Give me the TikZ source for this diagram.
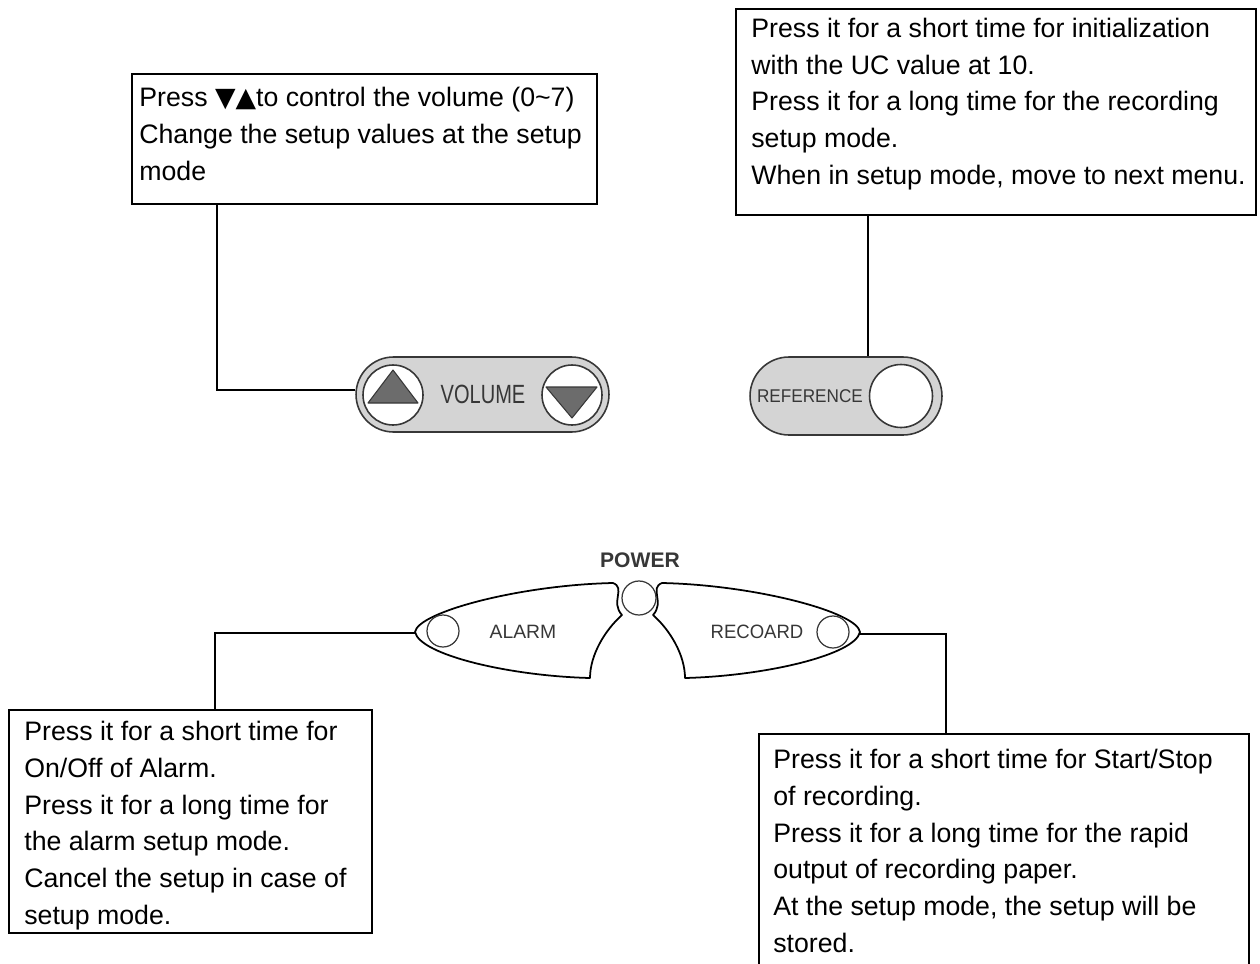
\documentclass[tikz,border=0pt]{standalone}
\usepackage{fontspec}
\setmainfont{Liberation Sans}
\newfontfamily\symfont{DejaVu Sans}
\usepackage{graphicx}
\usetikzlibrary{positioning, calc}
\definecolor{padgray}{RGB}{212,212,212}
\definecolor{keygray}{RGB}{108,108,108}
\definecolor{inkgray}{RGB}{55,55,55}

\begin{document}
\begin{tikzpicture}[x=0.02cm, y=-0.02cm,
  infobox/.style={draw, line width=1.1pt, anchor=north west, inner sep=0pt},
  note/.style={anchor=north west, inner sep=0pt, align=left,
               font=\fontsize{15.2}{21}\selectfont},
  pill/.style={draw=inkgray, line width=0.9pt, fill=padgray, inner sep=0pt},
  key/.style={circle, draw=inkgray, line width=0.9pt, fill=white, inner sep=0pt,
              minimum size=1.2cm},
  lamp/.style={circle, draw=inkgray, line width=0.7pt, inner sep=0pt, minimum size=0.64cm},
  padline/.style={draw=black, line width=1pt, line join=round},
  arrowkey/.style={draw=inkgray, line width=0.6pt, fill=keygray, line join=round},
  wire/.style={line width=1.1pt}]

  \path[use as bounding box] (0,0) rectangle (1260,963);
  \clip (0,0) rectangle (1260,963);

  % info boxes
  \node[infobox, minimum width=9.3cm,  minimum height=2.6cm]  (volbox)   at (131,73)  {};
  \node[infobox, minimum width=10.4cm, minimum height=4.12cm] (refbox)   at (735,8)   {};
  \node[infobox, minimum width=7.26cm, minimum height=4.46cm] (alarmbox) at (8,709)   {};
  \node[infobox, minimum width=9.8cm,  minimum height=5.4cm]  (recbox)   at (758,733) {};

  \node[note] (voltext) at ($(volbox.north west)+(8,14)$)
    {Press {\symfont ▼▲}to control the volume (0\textasciitilde7)\\
     Change the setup values at the setup\\ mode};
  \node[note] (reftext) at ($(refbox.north west)+(16,9.5)$)
    {Press it for a short time for initialization\\
     with the UC value at 10.\\
     Press it for a long time for the recording\\
     setup mode.\\
     When in setup mode, move to next menu.};
  \node[note] (alarmtext) at ($(alarmbox.north west)+(16,11.5)$)
    {Press it for a short time for\\ On/Off of Alarm.\\
     Press it for a long time for\\ the alarm setup mode.\\
     Cancel the setup in case of\\ setup mode.};
  \node[note] (rectext) at ($(recbox.north west)+(15,15.5)$)
    {Press it for a short time for Start/Stop\\ of recording.\\
     Press it for a long time for the rapid\\ output of recording paper.\\
     At the setup mode, the setup will be\\ stored.};

  % volume pad
  \node[pill, rounded corners=0.75cm, minimum width=5.06cm, minimum height=1.5cm]
    (volpill) at (482.5,394.5) {};
  \node[key] (upkey)   at (393,395) {};
  \node[key] (downkey) at (572,395) {};
  \draw[arrowkey] (368,403) -- (393,370) -- (418,403) -- cycle;
  \draw[arrowkey] (546,387) -- (597,387) -- (572,418) -- cycle;
  \node[text=inkgray, font=\fontsize{15}{15}\selectfont] (vollabel) at (483,394)
    {\scalebox{0.76}[1]{VOLUME}};

  % reference pad
  \node[pill, rounded corners=0.78cm, minimum width=3.84cm, minimum height=1.56cm]
    (refpill) at (846,396) {};
  \node[key, minimum size=1.26cm] (refkey) at (901,396) {};
  \node[text=inkgray, font=\fontsize{10.5}{10.5}\selectfont] (reflabel) at (810,396)
    {\scalebox{0.93}[1]{REFERENCE}};

  % alarm / power / record panel
  \draw[padline] (415,632) .. controls (418,612) and (520,585) .. (613,583)
    .. controls (626,588) and (610,602) .. (622,615)
    .. controls (605,630) and (590,655) .. (590,678)
    .. controls (510,676) and (420,655) .. (415,632) -- cycle;
  \draw[padline] (860,632) .. controls (857,612) and (755,585) .. (662,583)
    .. controls (649,588) and (665,602) .. (653,615)
    .. controls (670,630) and (685,655) .. (685,678)
    .. controls (765,676) and (855,655) .. (860,632) -- cycle;
  \node[lamp] (alarmkey) at (443,631) {};
  \node[lamp] (reckey)   at (833,632) {};
  \node[lamp, minimum size=0.68cm] (powerkey) at (639,598) {};
  \node[text=inkgray, font=\fontsize{11}{11}\selectfont] (alarmlabel) at (523,632) {ALARM};
  \node[text=inkgray, font=\fontsize{11}{11}\selectfont] (reclabel)   at (757,632)
    {\scalebox{0.96}[1]{RECOARD}};
  \node[text=inkgray, font=\fontsize{12}{12}\bfseries] (powerlabel) at (640,560) {POWER};

  % connectors
  \coordinate (volknee)   at (217,390);
  \coordinate (refknee)   at (868,0);
  \coordinate (alarmtip)  at (415,633);
  \coordinate (alarmknee) at (215,633);
  \coordinate (rectip)    at (860,634);
  \coordinate (recknee)   at (946,634);

  \draw[wire] (volknee |- volbox.south) -- (volknee) -- (volknee -| volpill.west);
  \draw[wire] (refknee |- refbox.south) -- (refknee |- refpill.north);
  \draw[wire] (alarmtip) -- (alarmknee) -- (alarmknee |- alarmbox.north);
  \draw[wire] (rectip) -- (recknee) -- (recknee |- recbox.north);
\end{tikzpicture}
\end{document}
